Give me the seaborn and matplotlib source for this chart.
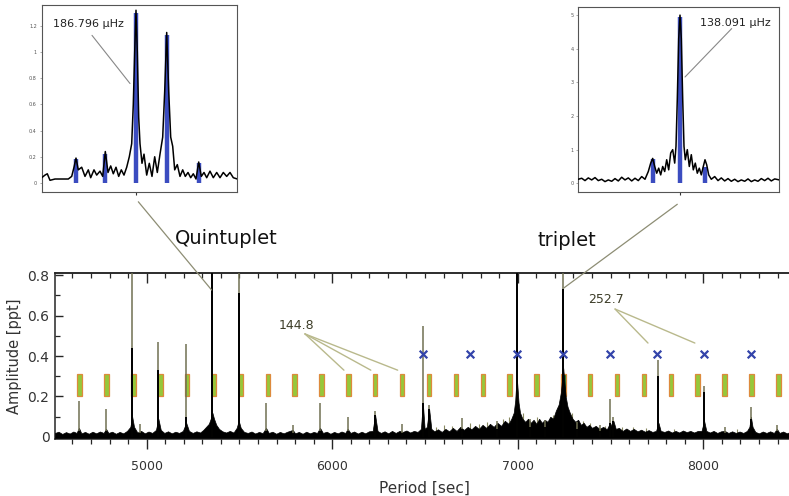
import numpy as np
import pandas as pd
import seaborn as sns
import matplotlib.pyplot as plt
from matplotlib.patches import ConnectionPatch
from matplotlib.ticker import MultipleLocator, FixedLocator, FuncFormatter

sns.set_style("ticks")
plt.rcParams['font.family'] = ['DejaVu Sans']

# espectro principal: piso de ruido (borde superior)
noise_period = [4506, 4525, 4545, 4565, 4585, 4605, 4622, 4635, 4648, 4668, 4688, 4708,
                4728, 4748, 4768, 4781, 4794, 4814, 4834, 4854, 4874, 4894, 4912, 4922,
                4932, 4950, 4970, 4990, 5010, 5030, 5050, 5063, 5076, 5095, 5115, 5135,
                5155, 5175, 5195, 5213, 5228, 5248, 5268, 5288, 5305, 5320, 5335, 5345,
                5354, 5363, 5375, 5390, 5408, 5428, 5448, 5468, 5485, 5496, 5507, 5525,
                5545, 5565, 5585, 5605, 5625, 5643, 5658, 5678, 5698, 5718, 5738, 5758,
                5787, 5800, 5820, 5840, 5860, 5880, 5900, 5918, 5934, 5950, 5970, 5990,
                6010, 6030, 6050, 6070, 6083, 6098, 6118, 6138, 6158, 6178, 6198, 6218,
                6231, 6244, 6262, 6282, 6302, 6322, 6342, 6362, 6380, 6400, 6420, 6440,
                6460, 6478, 6488, 6498, 6510, 6522, 6534, 6550, 6570, 6590, 6610, 6630,
                6650, 6670, 6690, 6710, 6730, 6750, 6770, 6790, 6810, 6830, 6850, 6870,
                6890, 6910, 6930, 6950, 6965, 6978, 6986, 6991, 6994, 6998, 7004, 7012,
                7025, 7040, 7055, 7070, 7085, 7100, 7115, 7130, 7145, 7160, 7175, 7190,
                7205, 7220, 7232, 7240, 7245, 7250, 7258, 7268, 7280, 7295, 7310, 7325,
                7340, 7355, 7370, 7385, 7400, 7420, 7440, 7460, 7480, 7497, 7507, 7515,
                7528, 7545, 7565, 7585, 7605, 7625, 7645, 7665, 7685, 7705, 7725, 7745,
                7758, 7770, 7790, 7810, 7830, 7850, 7870, 7890, 7910, 7930, 7950, 7970,
                7990, 8004, 8016, 8035, 8055, 8075, 8095, 8115, 8135, 8155, 8175, 8195,
                8215, 8235, 8248, 8256, 8265, 8280, 8300, 8320, 8340, 8360, 8380, 8396,
                8410, 8430, 8450, 8470, 8483]
noise_amp = [0.02, 0.026, 0.015, 0.024, 0.017, 0.027, 0.02, 0.045, 0.018, 0.025, 0.016, 0.026,
             0.018, 0.027, 0.02, 0.04, 0.02, 0.026, 0.016, 0.025, 0.018, 0.03, 0.05, 0.1,
             0.05, 0.022, 0.03, 0.018, 0.027, 0.02, 0.035, 0.09, 0.035, 0.02, 0.028, 0.018,
             0.026, 0.02, 0.03, 0.07, 0.03, 0.02, 0.028, 0.022, 0.035, 0.05, 0.065, 0.09,
             0.12, 0.09, 0.06, 0.04, 0.028, 0.022, 0.03, 0.022, 0.045, 0.08, 0.045, 0.025,
             0.02, 0.027, 0.017, 0.025, 0.019, 0.045, 0.02, 0.026, 0.016, 0.025, 0.018, 0.026,
             0.035, 0.018, 0.025, 0.016, 0.026, 0.018, 0.025, 0.02, 0.045, 0.02, 0.026, 0.016,
             0.025, 0.018, 0.027, 0.02, 0.04, 0.02, 0.027, 0.017, 0.026, 0.018, 0.028, 0.03,
             0.11, 0.03, 0.02, 0.028, 0.018, 0.03, 0.02, 0.03, 0.025, 0.032, 0.022, 0.03,
             0.025, 0.04, 0.17, 0.04, 0.05, 0.14, 0.04, 0.028, 0.038, 0.025, 0.04, 0.028,
             0.045, 0.03, 0.05, 0.035, 0.05, 0.038, 0.055, 0.04, 0.06, 0.045, 0.065, 0.05,
             0.07, 0.055, 0.08, 0.065, 0.09, 0.12, 0.18, 0.26, 0.3, 0.25, 0.17, 0.12,
             0.09, 0.075, 0.09, 0.07, 0.085, 0.065, 0.09, 0.07, 0.085, 0.075, 0.1, 0.09,
             0.13, 0.16, 0.22, 0.3, 0.34, 0.28, 0.2, 0.15, 0.12, 0.09, 0.075, 0.085,
             0.06, 0.07, 0.05, 0.06, 0.045, 0.055, 0.04, 0.05, 0.038, 0.07, 0.05, 0.08,
             0.04, 0.045, 0.03, 0.042, 0.03, 0.04, 0.028, 0.036, 0.026, 0.034, 0.025, 0.03,
             0.07, 0.03, 0.025, 0.032, 0.022, 0.03, 0.022, 0.032, 0.024, 0.03, 0.022, 0.03,
             0.03, 0.08, 0.03, 0.022, 0.03, 0.02, 0.028, 0.03, 0.02, 0.028, 0.02, 0.027,
             0.02, 0.03, 0.05, 0.1, 0.05, 0.025, 0.018, 0.027, 0.02, 0.028, 0.02, 0.04,
             0.02, 0.027, 0.018, 0.026, 0.02]

# picos: periodo, amplitud total y parte negra
peak_period = [4635, 4781, 4922, 4964, 5063, 5213, 5354, 5496, 5643, 5787, 5934, 6083,
               6231, 6374, 6488, 6522, 6698, 6886, 6994, 7066, 7147, 7245, 7318, 7443,
               7497, 7515, 7758, 8004, 8117, 8256, 8396]
peak_amp = [0.18, 0.14, 0.85, 0.065, 0.47, 0.46, 0.85, 0.85, 0.17, 0.06, 0.17, 0.1,
            0.13, 0.065, 0.55, 0.16, 0.095, 0.08, 0.85, 0.09, 0.085, 0.85, 0.075, 0.06,
            0.19, 0.1, 0.38, 0.25, 0.05, 0.15, 0.06]
peak_core = [0.03, 0.03, 0.44, 0.02, 0.33, 0.1, 0.85, 0.71, 0.03, 0.02, 0.03, 0.03,
             0.11, 0.02, 0.17, 0.14, 0.04, 0.04, 0.85, 0.05, 0.05, 0.73, 0.04, 0.03,
             0.07, 0.08, 0.3, 0.22, 0.02, 0.09, 0.03]
# "pasto" sobre el ruido (picos pequenos)
grass_period = [6560, 6600, 6645, 6740, 6790, 6835, 6920, 6950, 7030, 7105, 7190, 7290,
                7350, 7390, 7470, 7560, 7620, 7690, 7840, 8180]
grass_amp = [0.05, 0.06, 0.055, 0.07, 0.065, 0.075, 0.09, 0.1, 0.12, 0.1, 0.11, 0.12,
             0.08, 0.07, 0.055, 0.05, 0.05, 0.045, 0.04, 0.04]

# espaciamiento de periodos l=1 (144.8 s) y l=2 (252.7 s)
l1_period = [4639.0, 4783.8, 4928.6, 5073.4, 5218.2, 5363.0, 5507.8, 5652.6, 5797.4,
             5942.2, 6087.0, 6231.8, 6376.6, 6521.4, 6666.2, 6811.0, 6955.8, 7100.6,
             7245.4, 7390.2, 7535.0, 7679.8, 7824.6, 7969.4, 8114.2, 8259.0, 8403.8]
l2_period = [6488.0, 6740.7, 6993.4, 7246.1, 7498.8, 7751.5, 8004.2, 8256.9]

# inset quintuplete (offset de frecuencia, uHz relativos)
quint_df = [-0.943, -0.91, -0.887, -0.86, -0.81, -0.743, -0.677, -0.643, -0.62, -0.6,
            -0.577, -0.543, -0.51, -0.477, -0.453, -0.42, -0.393, -0.36, -0.333, -0.307,
            -0.28, -0.253, -0.227, -0.2, -0.173, -0.147, -0.12, -0.093, -0.067, -0.043,
            -0.027, -0.013, 0.0, 0.013, 0.027, 0.04, 0.06, 0.08, 0.107, 0.133, 0.16,
            0.187, 0.213, 0.24, 0.267, 0.287, 0.307, 0.327, 0.347, 0.367, 0.387, 0.413,
            0.44, 0.467, 0.493, 0.52, 0.547, 0.573, 0.6, 0.627, 0.653, 0.68, 0.707, 0.74,
            0.773, 0.807, 0.84, 0.873, 0.907, 0.94, 0.973, 1.013]
quint_amp = [0.04, 0.06, 0.07, 0.02, 0.03, 0.03, 0.03, 0.05, 0.12, 0.19,
             0.1, 0.12, 0.05, 0.1, 0.04, 0.1, 0.06, 0.09, 0.05, 0.24,
             0.08, 0.13, 0.07, 0.12, 0.05, 0.1, 0.06, 0.12, 0.2, 0.3,
             0.6, 1.0, 1.32, 1.0, 0.5, 0.3, 0.15, 0.22, 0.06, 0.15, 0.05,
             0.2, 0.08, 0.22, 0.35, 0.7, 1.15, 0.7, 0.35, 0.28, 0.1, 0.14,
             0.05, 0.1, 0.05, 0.08, 0.04, 0.07, 0.03, 0.16, 0.05, 0.08, 0.04, 0.09,
             0.04, 0.08, 0.04, 0.08, 0.05, 0.08, 0.04, 0.03]
quint_comp = [-0.6, -0.307, 0.0, 0.307, 0.627]
quint_comp_amp = [0.18, 0.22, 1.3, 1.13, 0.15]

# inset triplete
trip_df = [-1.017, -0.983, -0.95, -0.917, -0.883, -0.85, -0.817, -0.783, -0.75, -0.717,
           -0.683, -0.65, -0.617, -0.583, -0.55, -0.517, -0.483, -0.45, -0.417, -0.383,
           -0.35, -0.317, -0.293, -0.273, -0.253, -0.233, -0.213, -0.193, -0.173, -0.153,
           -0.133, -0.113, -0.093, -0.073, -0.053, -0.04, -0.027, -0.013, 0.0, 0.013,
           0.027, 0.04, 0.053, 0.073, 0.093, 0.113, 0.133, 0.153, 0.173, 0.193, 0.213,
           0.233, 0.25, 0.267, 0.287, 0.313, 0.347, 0.38, 0.413, 0.447, 0.48, 0.513,
           0.547, 0.58, 0.613, 0.647, 0.68, 0.713, 0.747, 0.78, 0.813, 0.847, 0.88,
           0.913, 0.947, 0.993]
trip_amp = [0.12, 0.15, 0.08, 0.16, 0.1, 0.17, 0.08, 0.12, 0.05, 0.1,
            0.06, 0.14, 0.07, 0.18, 0.1, 0.16, 0.07, 0.15, 0.08, 0.2,
            0.12, 0.35, 0.6, 0.74, 0.5, 0.3, 0.45, 0.25, 0.5, 0.35,
            0.7, 0.4, 0.9, 1.0, 0.6, 1.1, 2.5, 4.3, 5.0, 4.3,
            2.5, 1.1, 0.7, 1.0, 0.5, 0.85, 0.4, 0.6, 0.3, 0.45, 0.25,
            0.5, 0.7, 0.55, 0.25, 0.12, 0.2, 0.08, 0.16, 0.07, 0.14, 0.06,
            0.12, 0.05, 0.1, 0.06, 0.13, 0.05, 0.1, 0.06, 0.14, 0.08, 0.15,
            0.07, 0.13, 0.1]
trip_comp = [-0.273, 0.0, 0.25]
trip_comp_amp = [0.72, 4.95, 0.47]

W, H = 789, 496
fig = plt.figure(figsize=(W / 100, H / 100), dpi=100)
fig.patch.set_facecolor('white')

# ---------- panel principal ----------
ax = fig.add_axes([55 / W, 1 - 439 / H, 738 / W, 166 / H])
df_noise = pd.DataFrame({'period': noise_period, 'amp': noise_amp})
ax.fill_between(df_noise['period'], -0.005, df_noise['amp'], color='black', lw=0.5, zorder=3)

box_colors = ['#1f7a30' if i == 18 else '#95c83a' for i in range(len(l1_period))]
ax.bar(l1_period, 0.11, bottom=0.2, width=24, color=box_colors,
       edgecolor='#dd8a3c', linewidth=0.9, zorder=2)

ax.vlines(grass_period, 0, grass_amp, color='#8a8a62', lw=0.8, zorder=2.5)
ax.vlines(peak_period, 0, peak_amp, color='#707052', lw=1.1, zorder=4)
ax.vlines(peak_period, 0, peak_core, color='black', lw=1.4, zorder=5)

sns.scatterplot(x=l2_period, y=[0.41] * len(l2_period), ax=ax, marker='x', s=30,
                color='#3344aa', linewidth=1.6, zorder=6)

ax.set_xlim(4506, 8483)
ax.set_ylim(-0.01, 0.81)
ax.xaxis.set_major_locator(FixedLocator([5000, 6000, 7000, 8000]))
ax.xaxis.set_minor_locator(MultipleLocator(100))
ax.yaxis.set_major_locator(FixedLocator([0, 0.2, 0.4, 0.6, 0.8]))
ax.yaxis.set_minor_locator(MultipleLocator(0.1))
ax.yaxis.set_major_formatter(FuncFormatter(lambda v, p: '0' if abs(v) < 1e-9 else f'{v:.1f}'))
ax.tick_params(axis='x', which='major', direction='out', length=7, width=1, labelsize=9,
               labelcolor='#333333', pad=8)
ax.tick_params(axis='x', which='minor', direction='out', length=3.5, width=0.9)
ax.tick_params(axis='y', which='major', direction='in', length=6, width=1, labelsize=10,
               labelcolor='#333333', pad=4)
ax.tick_params(axis='y', which='minor', direction='in', length=3.5, width=0.9)
secax = ax.secondary_xaxis('top')
secax.xaxis.set_major_locator(FixedLocator([5000, 6000, 7000, 8000]))
secax.xaxis.set_minor_locator(MultipleLocator(100))
secax.tick_params(axis='x', which='major', direction='in', length=7, width=1, labeltop=False)
secax.tick_params(axis='x', which='minor', direction='in', length=3.5, width=0.9)
for s in ['left', 'bottom', 'top']:
    ax.spines[s].set_linewidth(1.1)
secax.spines['top'].set_linewidth(1.1)
ax.spines['right'].set_visible(False)
ax.set_xlabel('Period [sec]', fontsize=11, color='#333333', labelpad=6)
ax.set_ylabel('Amplitude [ppt]', fontsize=10.5, color='#333333', labelpad=4)

# anotaciones de espaciamiento
ax.text(5805, 0.55, '144.8', fontsize=9, color='#3d3d28', ha='center', va='center', zorder=7)
for k in [10, 11, 12]:
    ax.plot([5853, l1_period[k] - 24], [0.509, 0.33], color='#b9b98c', lw=1, zorder=7)
ax.text(7476, 0.677, '252.7', fontsize=9, color='#3d3d28', ha='center', va='center', zorder=7)
for k in [5, 6]:
    ax.plot([7524, l2_period[k] - 50], [0.632, 0.464], color='#b9b98c', lw=1, zorder=7)

fig.text(175 / W, 1 - 238 / H, 'Quintuplet', fontsize=14, va='center', color='#111111')
fig.text(538 / W, 1 - 240 / H, 'triplet', fontsize=14, va='center', color='#111111')

# ---------- insets ----------
def style_inset(a):
    for s in a.spines.values():
        s.set_linewidth(0.8)
        s.set_color('#555555')
    a.set_xticks([0])
    a.set_xticklabels([])
    a.tick_params(axis='x', direction='out', length=2, width=0.8, color='#333333')
    a.tick_params(axis='y', direction='out', length=1.5, width=0.5, labelsize=3.5,
                  labelcolor='#555555', color='#888888', pad=2)

ax1 = fig.add_axes([41.7 / W, 1 - 191.7 / H, 195.6 / W, 186.7 / H])
ax1.vlines(quint_comp, 0, quint_comp_amp, color='#3b4cc0', lw=3.2, zorder=2)
sns.lineplot(x=quint_df, y=quint_amp, ax=ax1, color='black', lw=1.1, sort=False,
             estimator=None, zorder=3)
ax1.set_xlim(-0.943, 1.013)
ax1.set_ylim(-0.067, 1.36)
ax1.set_yticks([0, 0.2, 0.4, 0.6, 0.8, 1.0, 1.2])
ax1.set_yticklabels(['0', '0.2', '0.4', '0.6', '0.8', '1', '1.2'])
style_inset(ax1)
ax1.text(-0.83, 1.213, '186.796 µHz', fontsize=8, color='#222222', ha='left', va='center')
ax1.plot([-0.44, -0.06], [1.128, 0.76], color='#888888', lw=0.8)

ax2 = fig.add_axes([578.3 / W, 1 - 191.7 / H, 201 / W, 185 / H])
ax2.vlines(trip_comp, 0, trip_comp_amp, color='#3b4cc0', lw=3.2, zorder=2)
sns.lineplot(x=trip_df, y=trip_amp, ax=ax2, color='black', lw=1.1, sort=False,
             estimator=None, zorder=3)
ax2.set_xlim(-1.017, 0.993)
ax2.set_ylim(-0.25, 5.25)
ax2.set_yticks([0, 1, 2, 3, 4, 5])
ax2.set_yticklabels(['0', '1', '2', '3', '4', '5'])
style_inset(ax2)
ax2.text(0.2, 4.78, '138.091 µHz', fontsize=8, color='#222222', ha='left', va='center')
ax2.plot([0.517, 0.05], [4.6, 3.16], color='#888888', lw=0.8)

# lineas de conexion inset -> pico
for a, xa, ya, pb, yb in [(ax1, 0.494, -0.054, 5350, 0.726), (ax2, 0.4925, -0.068, 7245, 0.734)]:
    con = ConnectionPatch(xyA=(xa, ya), coordsA=a.transAxes, xyB=(pb, yb), coordsB=ax.transData,
                          color='#8d8d74', lw=0.9)
    fig.add_artist(con)

fig.savefig('out.png', dpi=100, facecolor='white')
